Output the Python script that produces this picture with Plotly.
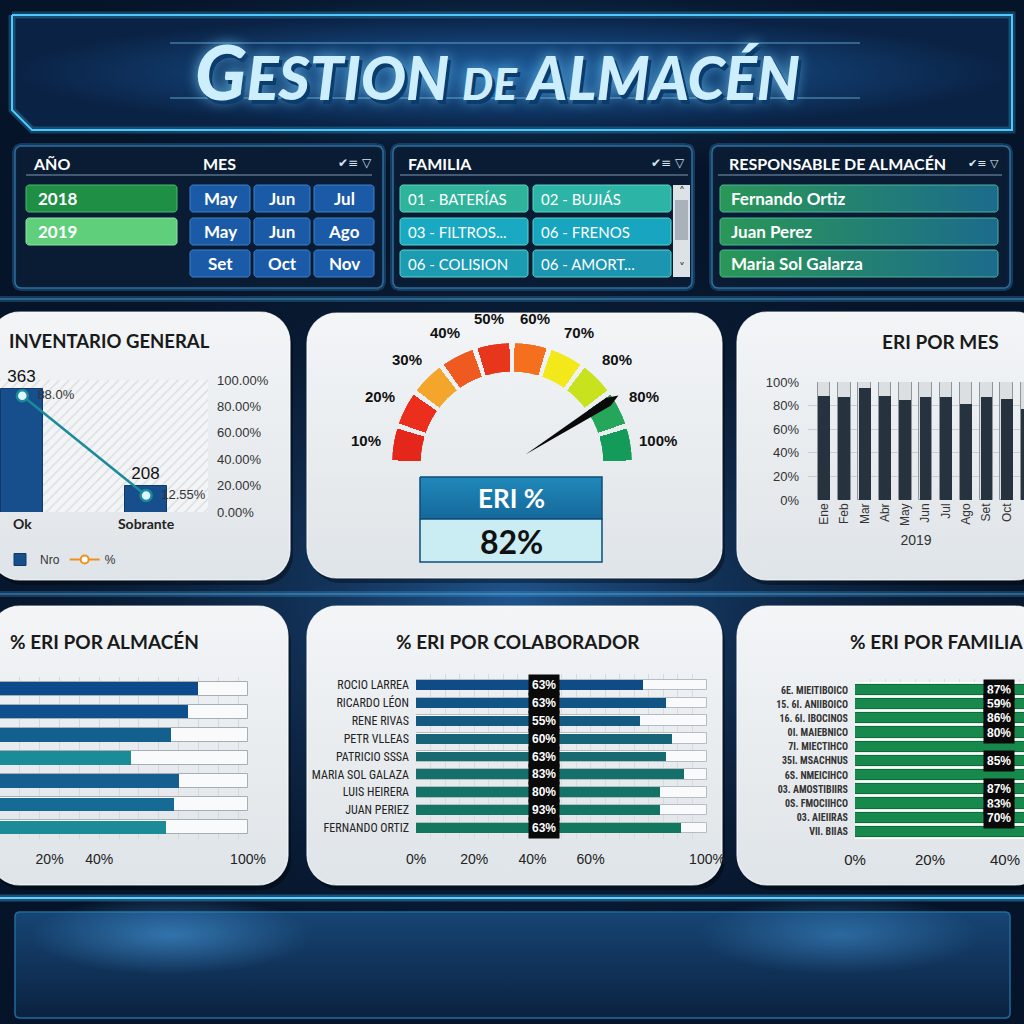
import numpy as np
import plotly.graph_objects as go

W = H = 1024

# ---------------- data ----------------
titulo_a, titulo_b, titulo_c, titulo_d = "G", "ESTION ", "DE", " ALMACÉN"

filtro_anio = ["2018", "2019"]
filtro_mes = ["May", "Jun", "Jul", "May", "Jun", "Ago", "Set", "Oct", "Nov"]
filtro_familia = ["01 - BATERÍAS", "02 - BUJIÁS", "03 - FILTROS...", "06 - FRENOS",
                  "06 - COLISION", "06 - AMORT..."]
filtro_responsable = ["Fernando Ortiz", "Juan Perez", "Maria Sol Galarza"]

inv_categorias = ["Ok", "Sobrante"]
inv_nro = [363, 208]
inv_pct = [88.0, 12.55]

gauge_valor = 82
gauge_etiquetas = ["10%", "20%", "30%", "40%", "50%", "60%", "70%", "80%", "80%", "100%"]
gauge_colores = ["#e4261b", "#ec2f1d", "#f4a52c", "#ef5a21", "#e8361c",
                 "#f4701e", "#f3e81a", "#c9e21e", "#26a65b", "#159b59"]

mes_categorias = ["Ene", "Feb", "Mar", "Abr", "May", "Jun", "Jul", "Ago", "Set", "Oct", "Nov", "Dic"]
mes_eri = [88, 87, 95, 88, 85, 87, 87, 81, 87, 86, 77, 85]
mes_anio = "2019"

almacen_categorias = ["Almacén 1", "Almacén 2", "Almacén 3", "Almacén 4",
                      "Almacén 5", "Almacén 6", "Almacén 7"]
almacen_eri = [80, 76, 69, 53, 72, 70, 67]
almacen_colores = ["#0d4a8c", "#0e4f8e", "#13608f", "#1a8c98", "#145f90", "#166b96", "#1b8b98"]
almacen_ticks = [20, 40, 100]

colab_categorias = ["ROCIO LARREA", "RICARDO LÉON", "RENE RIVAS", "PETR VLLEAS", "PATRICIO SSSA",
                    "MARIA SOL GALAZA", "LUIS HEIRERA", "JUAN PERIEZ", "FERNANDO ORTIZ"]
colab_eri = [78, 86, 77, 88, 86, 92, 84, 84, 91]
colab_etiquetas = ["63%", "63%", "55%", "60%", "63%", "83%", "80%", "93%", "63%"]
colab_colores = ["#0f4c85", "#105584", "#145a80", "#156478", "#166a70",
                 "#156f6a", "#147266", "#137563", "#12775f"]
colab_ticks = [0, 20, 40, 60, 100]

familia_categorias = ["6E. MIEITIBOICO", "15. 6I. ANIIBOICO", "16. 6I. IBOCINOS", "0I. MAIEBNICO",
                      "7I. MIECTIHCO", "35I. MSACHNUS", "6S. NMEICIHCO", "03. AMOSTIBIIRS",
                      "0S. FMOCIIHCO", "03. AIEIIRAS", "VII. BIIAS"]
familia_eri = [87, 59, 86, 80, 83, 85, 82, 87, 83, 70, 76]
familia_mostrar = [True, True, True, True, False, True, False, True, True, True, False]
familia_ticks = [0, 20, 40]

# ---------------- helpers ----------------
FONT = "Lato, Open Sans, DejaVu Sans, sans-serif"
NARROW = "Liberation Sans Narrow, Roboto Condensed, DejaVu Sans Condensed, Liberation Sans, sans-serif"
ARIAL = "Liberation Sans, Arial, sans-serif"


def px(x):
    return x / W


def py(y):
    return 1 - y / H


def rr(x0, y0, x1, y1, r, n=10):
    xs, ys = [], []
    for cx, cy, a0 in [(x1 - r, y0 + r, -90), (x1 - r, y1 - r, 0),
                       (x0 + r, y1 - r, 90), (x0 + r, y0 + r, 180)]:
        t = np.radians(np.linspace(a0, a0 + 90, n))
        xs += list(cx + r * np.cos(t))
        ys += list(cy + r * np.sin(t))
    xs.append(xs[0])
    ys.append(ys[0])
    return xs, ys


def ell(cx, cy, rx, ry, n=72):
    t = np.linspace(0, 2 * np.pi, n)
    return list(cx + rx * np.cos(t)), list(cy + ry * np.sin(t))


deco = []


def poly(xs, ys, fill, line=None, lw=0, grad=None):
    tr = go.Scatter(x=xs, y=ys, mode="lines", fill="toself", fillcolor=fill,
                    line=dict(color=line or "rgba(0,0,0,0)", width=lw),
                    hoverinfo="skip", showlegend=False, xaxis="x", yaxis="y")
    if grad:
        tr.fillgradient = grad
    deco.append(tr)


def hline(x0, x1, y, color, w):
    deco.append(go.Scatter(x=[x0, x1], y=[y, y], mode="lines", line=dict(color=color, width=w),
                           hoverinfo="skip", showlegend=False, xaxis="x", yaxis="y"))


ann = []


def txt(x, y, s, size, color="#ffffff", weight="normal", anchor="left", family=FONT, **kw):
    ann.append(dict(x=px(x), y=py(y), xref="paper", yref="paper", text=s, showarrow=False,
                    xanchor=anchor, yanchor="middle",
                    font=dict(family=family, size=size, color=color, weight=weight), **kw))


# ---------------- background ----------------
poly([0, W, W, 0, 0], [0, 0, H, H, 0], "#061429")
gx, gy = ell(512, 600, 640, 430)
poly(gx, gy, "rgba(0,0,0,0)", grad=dict(type="radial",
     colorscale=[[0, "rgba(40,104,172,0.75)"], [1, "rgba(6,20,41,0)"]]))
gx, gy = ell(512, 72, 560, 110)
poly(gx, gy, "rgba(0,0,0,0)", grad=dict(type="radial",
     colorscale=[[0, "rgba(40,130,210,0.7)"], [1, "rgba(6,20,41,0)"]]))

# header band
hx = [12, 1012, 1012, 32, 12, 12]
hy = [15, 15, 130, 130, 110, 15]
poly(hx, hy, "#0c2a50", grad=dict(type="radial",
     colorscale=[[0, "#1f5f9e"], [0.6, "#113a6a"], [1, "#0a2244"]]))
deco.append(go.Scatter(x=hx, y=hy, mode="lines", line=dict(color="rgba(70,200,255,0.25)", width=7),
                       hoverinfo="skip", showlegend=False, xaxis="x", yaxis="y"))
deco.append(go.Scatter(x=hx, y=hy, mode="lines", line=dict(color="#4cc9ff", width=2),
                       hoverinfo="skip", showlegend=False, xaxis="x", yaxis="y"))
hline(170, 860, 43, "rgba(130,215,255,0.45)", 1.5)
hline(170, 860, 98, "rgba(130,215,255,0.45)", 1.5)

# glow lines
for yy in (299, 594):
    hline(0, W, yy, "rgba(60,170,240,0.25)", 6)
    hline(0, W, yy, "rgba(120,210,255,0.55)", 1.2)
hline(0, W, 898, "rgba(70,190,255,0.35)", 7)
hline(0, W, 898, "#5fd0ff", 2)

# bottom panel
bx, by = rr(15, 912, 1010, 1018, 4)
poly(bx, by, "#0f2c50", line="#1f6a9c", lw=1.5, grad=dict(type="vertical",
     colorscale=[[0, "#0b2240"], [1, "#174574"]]))
gx, gy = ell(170, 935, 140, 40)
poly(gx, gy, "rgba(0,0,0,0)", grad=dict(type="radial",
     colorscale=[[0, "rgba(80,170,240,0.5)"], [1, "rgba(80,170,240,0)"]]))
gx, gy = ell(840, 935, 140, 40)
poly(gx, gy, "rgba(0,0,0,0)", grad=dict(type="radial",
     colorscale=[[0, "rgba(80,170,240,0.4)"], [1, "rgba(80,170,240,0)"]]))

# filter panels
for x0, x1 in [(15, 383), (393, 692), (712, 1010)]:
    fx, fy = rr(x0, 146, x1, 288, 6)
    deco.append(go.Scatter(x=fx, y=fy, mode="lines", line=dict(color="rgba(60,170,240,0.25)", width=6),
                           hoverinfo="skip", showlegend=False, xaxis="x", yaxis="y"))
    poly(fx, fy, "rgba(10,28,52,0.95)", line="#2f6e9e", lw=1.5)
hline(26, 372, 175, "#7f97ad", 1.2)
hline(400, 688, 175, "#7f97ad", 1.2)
hline(718, 1002, 175, "#7f97ad", 1.2)

# main panels
panel_boxes = [(-10, 312, 290, 580), (307, 313, 722, 578), (737, 312, 1045, 580),
               (-10, 606, 288, 885), (307, 606, 722, 885), (737, 606, 1045, 885)]
for x0, y0, x1, y1 in panel_boxes:
    sx, sy = rr(x0 + 3, y0 + 5, x1 + 3, y1 + 5, 30)
    poly(sx, sy, "rgba(0,0,0,0.35)")
    qx, qy = rr(x0, y0, x1, y1, 30)
    poly(qx, qy, "#e8ecef", line="rgba(255,255,255,0.8)", lw=1.2, grad=dict(type="vertical",
         colorscale=[[0, "#dfe4e8"], [1, "#f3f5f7"]]))

# ---------------- filter buttons ----------------
def button(x0, y0, x1, y1, fill, line, grad=None):
    bx_, by_ = rr(x0, y0, x1, y1, 3, n=4)
    poly(bx_, by_, fill, line=line, lw=1, grad=grad)


rows = [(185, 212), (218, 245), (250, 277)]
txt(31, 163, "AÑO", 16, weight="bold")
txt(201, 163, "MES", 16, weight="bold")
txt(355, 163, "✔≡ ▽", 12, color="#d8e4ee", anchor="center", family="DejaVu Sans")
txt(406, 163, "FAMILIA", 16, weight="bold")
txt(668, 163, "✔≡ ▽", 12, color="#d8e4ee", anchor="center", family="DejaVu Sans")
txt(727, 163, "RESPONSABLE DE ALMACÉN", 16, weight="bold")
txt(983, 163, "✔≡ ▽", 11, color="#d8e4ee", anchor="center", family="DejaVu Sans")

anio_col = [("#1f8f45", "#4bbb6c"), ("#5fcf7c", "#93e2a8")]
for i, a in enumerate(filtro_anio):
    y0, y1 = rows[i]
    button(26, y0, 177, y1, anio_col[i][0], anio_col[i][1])
    txt(36, (y0 + y1) / 2, a, 17, weight="bold")

mes_cols = [(190, 250), (254, 310), (314, 374)]
for k, m in enumerate(filtro_mes):
    x0, x1 = mes_cols[k % 3]
    y0, y1 = rows[k // 3]
    button(x0, y0, x1, y1, "#1a5aa6", "#3f80c9")
    txt((x0 + x1) / 2, (y0 + y1) / 2, m, 17, weight="bold", anchor="center")

fam_cols = [(400, 528), (533, 671)]
fam_fill = [["#2fb39a", "#2cb4a6"], ["#19a9c2", "#17a5bf"], ["#1c9cb2", "#1b95b0"]]
for k, f in enumerate(filtro_familia):
    x0, x1 = fam_cols[k % 2]
    y0, y1 = rows[k // 2]
    button(x0, y0, x1, y1, fam_fill[k // 2][k % 2], "#5fd3c8")
    txt(x0 + 6, (y0 + y1) / 2, f, 15)
poly([673, 690, 690, 673, 673], [185, 185, 277, 277, 185], "#dde2e7")
poly([675, 688, 688, 675, 675], [200, 200, 240, 240, 200], "#a9b2bb")
txt(681.5, 192, "˄", 12, color="#333", anchor="center", family="DejaVu Sans")
txt(681.5, 268, "˅", 12, color="#333", anchor="center", family="DejaVu Sans")

for i, r_ in enumerate(filtro_responsable):
    y0, y1 = rows[i]
    button(720, y0, 998, y1, "#23806f", "#4fb39a", grad=dict(type="horizontal",
           colorscale=[[0, "#2a9757"], [1, "#1c6b8c"]]))
    txt(729, (y0 + y1) / 2, r_, 17, weight="bold")

# ---------------- title ----------------
ann.append(dict(x=px(497), y=py(70), xref="paper", yref="paper", showarrow=False,
                xanchor="center", yanchor="middle",
                text=(f"<span style='font-size:76px'>{titulo_a}</span>{titulo_b}"
                      f"<span style='font-size:44px'>{titulo_c}</span>{titulo_d}"),
                font=dict(family=FONT, size=60, color="#cdeefc", weight=900, style="italic",
                          shadow="3px 4px 0px #0b3c6e, 0px 0px 14px rgba(120,210,255,0.8)")))

# ---------------- panel titles ----------------
txt(7, 341, "INVENTARIO GENERAL", 18.5, color="#1a1a1a", weight="bold")
txt(940, 341, "ERI POR MES", 19, color="#1a1a1a", weight="bold", anchor="center")
txt(8, 641, "% ERI POR ALMACÉN", 19, color="#1a1a1a", weight="bold")
txt(518, 641, "% ERI POR COLABORADOR", 19, color="#1a1a1a", weight="bold", anchor="center")
txt(848, 641, "% ERI POR FAMILIA", 19, color="#1a1a1a", weight="bold")

# ---------------- gauge extras ----------------
gcx, gcy = 512, 463
for i, lab in enumerate(gauge_etiquetas):
    a = np.radians(180 - (i + 0.5) * 18)
    txt(gcx + 148 * np.cos(a), gcy - 146 * np.sin(a), lab, 15, color="#111", weight="bold",
        anchor="center", family=ARIAL)

poly([420, 602, 602, 420, 420], [477, 477, 519, 519, 477], "#1b78a8", line="#0e4c7a", lw=1.5,
     grad=dict(type="vertical", colorscale=[[0, "#15689a"], [1, "#2089ba"]]))
poly([420, 602, 602, 420, 420], [519, 519, 562, 562, 519], "#c9edf3", line="#0e4c7a", lw=1.5)
txt(511, 498, "ERI %", 26, weight="bold", anchor="center")
txt(511, 541, f"{gauge_valor}%", 32, color="#111", weight="bold", anchor="center")

ang = np.radians(180 - gauge_valor / 100 * 180)
ux, uy = np.cos(ang), -np.sin(ang)
nx, ny = -uy, ux
pts = [(gcx + 16 * ux, gcy + 16 * uy),
       (gcx + 114 * ux + 4.5 * nx, gcy + 114 * uy + 4.5 * ny),
       (gcx + 126 * ux, gcy + 126 * uy),
       (gcx + 114 * ux - 4.5 * nx, gcy + 114 * uy - 4.5 * ny)]
needle_path = "M " + " L ".join(f"{px(a_)} {py(b_)}" for a_, b_ in pts) + " Z"

# ---------------- data traces ----------------
data = []
# Inventario general
data.append(go.Bar(x=inv_categorias, y=[400, 400], width=[1, 1], xaxis="x2", yaxis="y2",
                   marker=dict(color="#f3f4f5", line=dict(width=0),
                               pattern=dict(shape="/", fgcolor="#bfc6cc", bgcolor="#f3f4f5",
                                            size=7, solidity=0.2)),
                   hoverinfo="skip", showlegend=False))
data.append(go.Bar(x=inv_categorias, y=inv_nro, width=0.34, name="Nro", xaxis="x2", yaxis="y2",
                   marker=dict(color="#174e8c", line=dict(color="#0f3a6a", width=1)),
                   text=inv_nro, textposition="outside", cliponaxis=False,
                   textfont=dict(size=17, color="#111", family=ARIAL), showlegend=True))
data.append(go.Scatter(x=inv_categorias, y=inv_pct, xaxis="x2", yaxis="y3", mode="lines+markers+text",
                       text=[f"{v}%" for v in inv_pct], texttemplate="&nbsp;&nbsp;%{text}",
                       textposition="middle right",
                       textfont=dict(size=13, color="#333", family=ARIAL),
                       line=dict(color="#1b8a9c", width=2.5),
                       marker=dict(size=11, color="#dff8ff", line=dict(color="#1b8a9c", width=2.5)),
                       cliponaxis=False, showlegend=False))
data.append(go.Scatter(x=[None], y=[None], xaxis="x2", yaxis="y3", name="%", mode="lines+markers",
                       line=dict(color="#f0901c", width=2),
                       marker=dict(size=8, color="white", line=dict(color="#f0901c", width=2)),
                       showlegend=True))

# Gauge
data.append(go.Barpolar(r=[1] * len(gauge_colores),
                        theta=[180 - (i + 0.5) * 18 for i in range(len(gauge_colores))],
                        width=[15.5] * len(gauge_colores), marker=dict(color=gauge_colores, line=dict(width=0)),
                        subplot="polar", showlegend=False, hoverinfo="skip"))

# ERI por mes
data.append(go.Bar(x=mes_categorias, y=[100] * len(mes_categorias), width=0.62, xaxis="x4", yaxis="y4",
                   marker=dict(color="#dcdfe2", line=dict(color="#8e959c", width=1)),
                   hoverinfo="skip", showlegend=False))
data.append(go.Bar(x=mes_categorias, y=mes_eri, width=0.58, xaxis="x4", yaxis="y4",
                   marker=dict(color="#27323f", line=dict(width=0)), showlegend=False))

# ERI por almacen
data.append(go.Bar(y=almacen_categorias, x=[100] * len(almacen_categorias), orientation="h", width=0.6,
                   xaxis="x5", yaxis="y5", marker=dict(color="#f8fafb", line=dict(color="#a5adb5", width=1)),
                   hoverinfo="skip", showlegend=False))
data.append(go.Bar(y=almacen_categorias, x=almacen_eri, orientation="h", width=0.58,
                   xaxis="x5", yaxis="y5", marker=dict(color=almacen_colores, line=dict(width=0)),
                   showlegend=False))

# ERI por colaborador
data.append(go.Bar(y=colab_categorias, x=[100] * len(colab_categorias), orientation="h", width=0.6,
                   xaxis="x6", yaxis="y6", marker=dict(color="#f8fafb", line=dict(color="#b5bcc3", width=1)),
                   hoverinfo="skip", showlegend=False))
data.append(go.Bar(y=colab_categorias, x=colab_eri, orientation="h", width=0.55,
                   xaxis="x6", yaxis="y6", marker=dict(color=colab_colores, line=dict(width=0)),
                   showlegend=False))

# ERI por familia
data.append(go.Bar(y=familia_categorias, x=[100] * len(familia_categorias), orientation="h", width=1.0,
                   xaxis="x7", yaxis="y7", marker=dict(color="#e0f2e8", line=dict(color="#ffffff", width=1)),
                   hoverinfo="skip", showlegend=False))
data.append(go.Bar(y=familia_categorias, x=familia_eri, orientation="h", width=0.72,
                   xaxis="x7", yaxis="y7", marker=dict(color="#17894d", line=dict(color="#0f6b3a", width=1)),
                   showlegend=False))

colab_label_x = 44
for c, lab in zip(colab_categorias, colab_etiquetas):
    ann.append(dict(x=colab_label_x, y=c, xref="x6", yref="y6", text=lab, showarrow=False,
                    bgcolor="#0a0a0a", borderpad=3,
                    font=dict(family=ARIAL, size=12, color="#ffffff", weight="bold")))
familia_label_x = 38.5
for c, v, s in zip(familia_categorias, familia_eri, familia_mostrar):
    if s:
        ann.append(dict(x=familia_label_x, y=c, xref="x7", yref="y7", text=f"{v}%", showarrow=False,
                        bgcolor="#0a0a0a", borderpad=3,
                        font=dict(family=ARIAL, size=12, color="#ffffff", weight="bold")))

fig = go.Figure(data=deco + data)

axfont = dict(family=ARIAL, size=13, color="#333")
fig.update_layout(
    width=W, height=H, margin=dict(l=0, r=0, t=0, b=0, pad=0), autosize=False,
    paper_bgcolor="#061429", plot_bgcolor="rgba(0,0,0,0)",
    barmode="overlay", bargap=0, showlegend=True,
    legend=dict(x=px(0), y=py(545), xanchor="left", yanchor="top", orientation="h",
                font=dict(family=ARIAL, size=12, color="#333"), bgcolor="rgba(0,0,0,0)",
                itemwidth=30, traceorder="normal"),
    xaxis=dict(domain=[0, 1], range=[0, W], visible=False, fixedrange=True),
    yaxis=dict(domain=[0, 1], range=[H, 0], visible=False, fixedrange=True),
    xaxis2=dict(domain=[0, px(208)], range=[-0.18, 1.5], anchor="y2", type="category",
                showgrid=False, zeroline=False, ticks="", showline=False,
                tickfont=dict(family=FONT, size=14, color="#222", weight="bold"), ticklabelstandoff=2),
    yaxis2=dict(domain=[py(512), py(380)], range=[166, 377], anchor="x2", visible=False),
    yaxis3=dict(domain=[py(512), py(380)], overlaying="y2", side="right", anchor="x2", range=[0, 100],
                dtick=20, tickformat=".2f", ticksuffix="%", showgrid=True, gridcolor="#cdd2d7",
                zeroline=False, tickfont=axfont, ticklabelstandoff=8),
    polar=dict(domain=dict(x=[px(392), px(632)], y=[py(463), py(343)]), sector=[0, 180], hole=0.76,
               bgcolor="rgba(0,0,0,0)", radialaxis=dict(visible=False, range=[0, 1]),
               angularaxis=dict(visible=False)),
    xaxis4=dict(domain=[px(808), 1], range=[-0.79, 9.85], anchor="y4", type="category", tickangle=-90,
                showgrid=False, zeroline=False, ticks="", tickfont=dict(family=ARIAL, size=12, color="#333"),
                title=dict(text=mes_anio, font=dict(family=ARIAL, size=14, color="#333"), standoff=10)),
    yaxis4=dict(domain=[py(500), py(382)], range=[0, 100], anchor="x4", dtick=20, ticksuffix="%",
                gridcolor="#c8cdd2", zeroline=False, tickfont=axfont, ticklabelstandoff=8),
    xaxis5=dict(domain=[0, px(248)], range=[0, 100], anchor="y5", tickmode="array", tickvals=almacen_ticks,
                ticktext=[f"{v}%" for v in almacen_ticks], showgrid=False, zeroline=False,
                tickfont=dict(family=ARIAL, size=14, color="#222"), ticklabelstandoff=10,
                minor=dict(tickmode="linear", tick0=0, dtick=8, showgrid=True, gridcolor="#d3d8dc")),
    yaxis5=dict(domain=[py(839), py(677)], anchor="x5", autorange="reversed", showticklabels=False,
                showgrid=False, zeroline=False, ticks=""),
    xaxis6=dict(domain=[px(416), px(707)], range=[0, 100], anchor="y6", tickmode="array",
                tickvals=colab_ticks, ticktext=[f"{v}%" for v in colab_ticks], showgrid=False, zeroline=False,
                tickfont=dict(family=ARIAL, size=14, color="#222"), ticklabelstandoff=10,
                minor=dict(tickmode="linear", tick0=0, dtick=5, showgrid=True, gridcolor="#d6dbdf")),
    yaxis6=dict(domain=[py(839), py(674)], anchor="x6", autorange="reversed", showgrid=False,
                zeroline=False, ticks="", tickfont=dict(family=NARROW, size=12, color="#222"),
                ticklabelstandoff=6),
    xaxis7=dict(domain=[px(855), 1], range=[0, 45.07], anchor="y7", tickmode="array", tickvals=familia_ticks,
                ticktext=[f"{v}%" for v in familia_ticks], showgrid=False, zeroline=False,
                tickfont=dict(family=ARIAL, size=15, color="#222"), ticklabelstandoff=10,
                minor=dict(tickmode="linear", tick0=0, dtick=4, showgrid=True, gridcolor="#d6dbdf")),
    yaxis7=dict(domain=[py(839), py(679)], anchor="x7", autorange="reversed", showgrid=False,
                zeroline=False, ticks="", tickfont=dict(family=NARROW, size=10, color="#333", weight="bold"),
                ticklabelstandoff=6),
    annotations=ann,
    shapes=[dict(type="path", path=needle_path, xref="paper", yref="paper",
                 fillcolor="#0a0a0a", line=dict(width=0))],
)
# keep every axis exactly at its domain (no automatic margin pushing)
fig.update_xaxes(automargin=False)
fig.update_yaxes(automargin=False)

fig.write_html("out.html")
